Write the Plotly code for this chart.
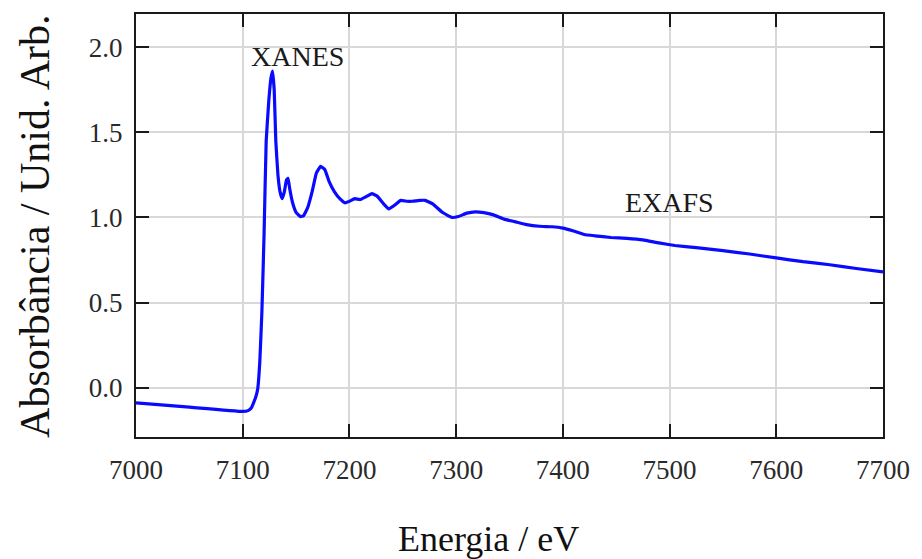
import plotly.graph_objects as go

energy = [7000, 7050, 7100, 7105, 7108, 7112, 7114, 7116, 7118, 7120, 7122, 7124.5, 7126.5, 7128,
          7129.5, 7131, 7133, 7135, 7137, 7139, 7141, 7142.5, 7144, 7147, 7150, 7154, 7157, 7161,
          7165, 7169, 7173, 7177, 7181, 7186, 7191, 7196, 7200, 7205, 7210, 7215, 7221, 7226,
          7232, 7237, 7243, 7248, 7254, 7259, 7266, 7271, 7278, 7287, 7296, 7302, 7310, 7318,
          7326, 7335, 7345, 7355, 7366, 7378, 7390, 7400, 7410, 7420, 7430, 7445, 7460, 7475,
          7490, 7505, 7525, 7550, 7575, 7600, 7625, 7650, 7675, 7700]
absorb = [-0.09, -0.115, -0.14, -0.135, -0.12, -0.06, -0.01, 0.15, 0.45, 0.9, 1.45, 1.69, 1.82, 1.86,
          1.75, 1.45, 1.25, 1.15, 1.11, 1.15, 1.22, 1.23, 1.17, 1.08, 1.03, 1.005, 1.01, 1.06,
          1.15, 1.26, 1.30, 1.28, 1.21, 1.15, 1.11, 1.085, 1.095, 1.11, 1.105, 1.12, 1.14, 1.125,
          1.08, 1.05, 1.075, 1.10, 1.095, 1.095, 1.10, 1.10, 1.08, 1.03, 1.00, 1.005, 1.025, 1.033,
          1.028, 1.015, 0.99, 0.975, 0.958, 0.948, 0.945, 0.937, 0.92, 0.90, 0.892, 0.882, 0.877, 0.868,
          0.85, 0.835, 0.822, 0.805, 0.785, 0.762, 0.74, 0.722, 0.70, 0.68]

x_ticks = [7000, 7100, 7200, 7300, 7400, 7500, 7600, 7700]
y_ticks = [0.0, 0.5, 1.0, 1.5, 2.0]
labels = ["XANES", "EXAFS"]
label_x = [7151, 7500]
label_y = [1.945, 1.09]

serif = "Liberation Serif, Times New Roman, serif"

fig = go.Figure()
fig.add_trace(go.Scatter(x=energy, y=absorb, mode="lines",
                         line=dict(color="#0a0aff", width=3.2, shape="spline", smoothing=0.3),
                         showlegend=False))
for t, xx, yy in zip(labels, label_x, label_y):
    fig.add_annotation(x=xx, y=yy, text=t, showarrow=False,
                       font=dict(family=serif, size=28, color="#1a1a1a"))

# axis titles placed as annotations to match the reference placement
fig.add_annotation(xref="paper", yref="paper", x=0.472, y=-0.24, xanchor="center", yanchor="middle",
                   text="Energia / eV", showarrow=False,
                   font=dict(family=serif, size=36, color="#111"))
fig.add_annotation(xref="paper", yref="paper", x=-0.135, y=0.497, xanchor="center", yanchor="middle",
                   text="Absorbância / Unid. Arb.", textangle=-90, showarrow=False,
                   font=dict(family=serif, size=42, color="#111"))

axis_common = dict(showline=True, linecolor="#1a1a1a", linewidth=2, mirror="ticks",
                   ticks="inside", ticklen=13, tickwidth=2, tickcolor="#1a1a1a",
                   showgrid=True, gridcolor="#d8d8d8", gridwidth=2, zeroline=False,
                   tickfont=dict(family=serif, size=27, color="#2a2a2a"))

fig.update_xaxes(range=[7000, 7700], tickvals=x_ticks, ticktext=[str(v) for v in x_ticks],
                 ticklabelstandoff=8, **axis_common)
fig.update_yaxes(range=[-0.29, 2.195], tickvals=y_ticks, ticktext=[f"{v:.1f}" for v in y_ticks],
                 ticklabelstandoff=6, **axis_common)

fig.update_layout(width=922, height=559, margin=dict(l=136, r=34, t=14, b=122),
                  paper_bgcolor="white", plot_bgcolor="white")
fig.write_html("out.html")
